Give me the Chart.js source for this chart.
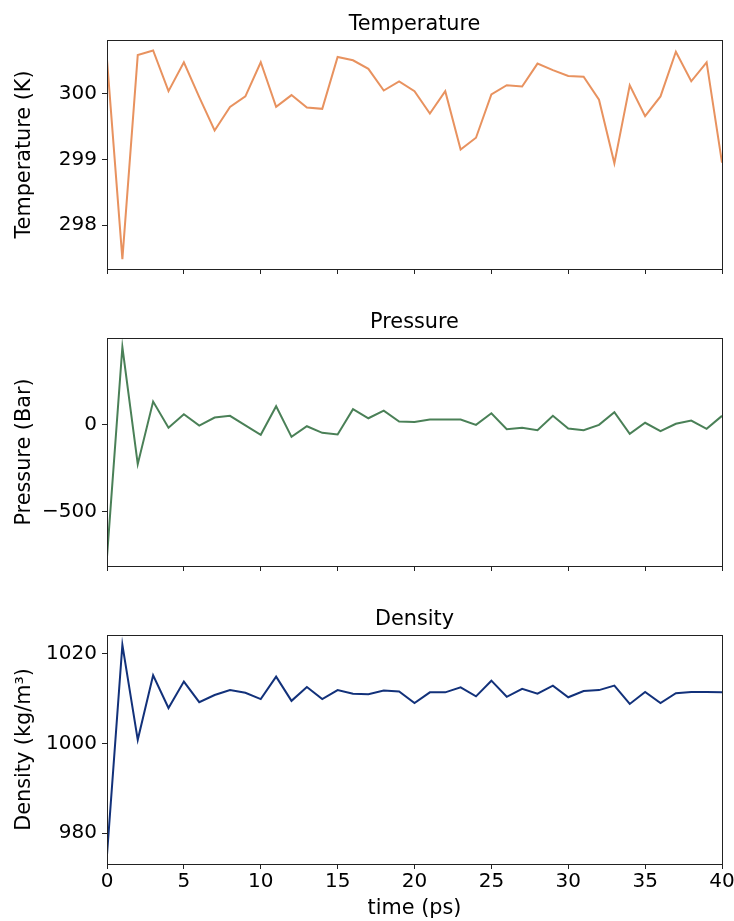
<!DOCTYPE html>
<html lang="en">
<head>
    <meta charset="UTF-8">
    <title>MD run</title>
    <script src="https://cdn.jsdelivr.net/npm/chart.js"></script>
    <style>
        body { margin: 0; background: #fff; }
        canvas { position: absolute; left: 0; }
    </style>
</head>
<body>
<canvas id="tempChart" width="734" height="290" style="top:0px"></canvas>
<canvas id="pressChart" width="734" height="290" style="top:298px"></canvas>
<canvas id="densChart" width="734" height="326" style="top:595px"></canvas>

<script>
    const time = [0, 1, 2, 3, 4, 5, 6, 7, 8, 9, 10, 11, 12, 13, 14, 15, 16, 17, 18, 19, 20,
        21, 22, 23, 24, 25, 26, 27, 28, 29, 30, 31, 32, 33, 34, 35, 36, 37, 38, 39, 40];
    const temperature = [300.52, 297.48, 300.59, 300.66, 300.04, 300.48, 299.95, 299.44, 299.80, 299.96, 300.48,
        299.80, 299.98, 299.79, 299.77, 300.56, 300.51, 300.38, 300.05, 300.19, 300.04,
        299.70, 300.04, 299.15, 299.33, 299.99, 300.13, 300.11, 300.46, 300.36, 300.27,
        300.26, 299.91, 298.94, 300.13, 299.66, 299.96, 300.64, 300.19, 300.48, 298.95];
    const pressure = [-760, 446, -228, 132, -19, 59, -6, 40, 50, -5, -59,
        105, -71, -10, -48, -57, 88, 36, 80, 17, 15,
        29, 29, 29, -2, 65, -27, -19, -33, 50, -23,
        -33, -2, 71, -54, 10, -38, 4, 23, -25, 50];
    const density = [975.2, 1022.0, 1000.8, 1015.2, 1007.9, 1013.8, 1009.2, 1010.8, 1011.9, 1011.3, 1009.9,
        1014.9, 1009.5, 1012.6, 1009.9, 1011.9, 1011.1, 1011.0, 1011.8, 1011.6, 1009.0,
        1011.4, 1011.4, 1012.5, 1010.5, 1014.0, 1010.4, 1012.2, 1011.1, 1012.9, 1010.3,
        1011.7, 1011.9, 1012.9, 1008.8, 1011.5, 1009.0, 1011.2, 1011.5, 1011.5, 1011.4];

    const timeTicks = [0, 5, 10, 15, 20, 25, 30, 35, 40];
    const tempTicks = [298, 299, 300];
    const pressTicks = [-500, 0];
    const densTicks = [980, 1000, 1020];

    const FONT = { family: 'DejaVu Sans', size: 20, weight: 'normal' };
    const LABEL_FONT = { family: 'DejaVu Sans', size: 20.8, weight: 'normal' };
    Chart.defaults.color = '#000';

    // matplotlib-style box around the plot area
    const framePlugin = {
        id: 'frame',
        afterDraw(chart) {
            const a = chart.chartArea;
            const ctx = chart.ctx;
            ctx.save();
            ctx.strokeStyle = '#222';
            ctx.lineWidth = 1;
            ctx.strokeRect(Math.round(a.left) + 0.5, Math.round(a.top) + 0.5,
                Math.round(a.right - a.left), Math.round(a.bottom - a.top));
            ctx.restore();
        }
    };

    function makePanel(id, title, yLabel, values, color, yMin, yMax, yTicks, showX, xHeight) {
        new Chart(document.getElementById(id).getContext('2d'), {
            type: 'line',
            data: {
                datasets: [{
                    data: time.map((t, i) => ({ x: t, y: values[i] })),
                    borderColor: color,
                    borderWidth: 2,
                    pointRadius: 0,
                    tension: 0,
                    fill: false
                }]
            },
            options: {
                responsive: false,
                animation: false,
                layout: { padding: { left: 0, right: 12, top: 0, bottom: 0 } },
                plugins: {
                    legend: { display: false },
                    tooltip: { enabled: false },
                    title: {
                        display: true,
                        text: title,
                        fullSize: false,
                        font: LABEL_FONT,
                        color: '#000',
                        padding: { top: 12, bottom: 3 }
                    }
                },
                scales: {
                    x: {
                        type: 'linear',
                        min: 0,
                        max: 40,
                        afterBuildTicks: s => { s.ticks = timeTicks.map(v => ({ value: v })); },
                        afterFit: s => { s.height = xHeight; s.paddingLeft = 0; s.paddingRight = 0; },
                        grid: { drawOnChartArea: false, tickLength: 5, tickColor: '#222' },
                        border: { display: false },
                        ticks: { display: showX, font: FONT, padding: 1, maxRotation: 0 },
                        title: { display: showX, text: 'time (ps)', font: LABEL_FONT, padding: { top: 0, bottom: 0 } }
                    },
                    y: {
                        min: yMin,
                        max: yMax,
                        afterBuildTicks: s => { s.ticks = yTicks.map(v => ({ value: v })); },
                        afterFit: s => { s.width = 107; s.paddingTop = 0; s.paddingBottom = 0; },
                        grid: { drawOnChartArea: false, tickLength: 5, tickColor: '#222' },
                        border: { display: false },
                        ticks: {
                            font: FONT,
                            padding: 5,
                            callback: v => String(v).replace('-', '\u2212')
                        },
                        title: { display: true, text: yLabel, font: LABEL_FONT, padding: { top: 12, bottom: 0 } }
                    }
                }
            },
            plugins: [framePlugin]
        });
    }

    makePanel('tempChart', 'Temperature', 'Temperature (K)', temperature, '#e8925f',
        297.33, 300.82, tempTicks, false, 21);
    makePanel('pressChart', 'Pressure', 'Pressure (Bar)', pressure, '#4a8057',
        -814, 498, pressTicks, false, 22);
    makePanel('densChart', 'Density', 'Density (kg/m\u00b3)', density, '#12317a',
        973.1, 1024.2, densTicks, true, 57);
</script>
</body>
</html>
